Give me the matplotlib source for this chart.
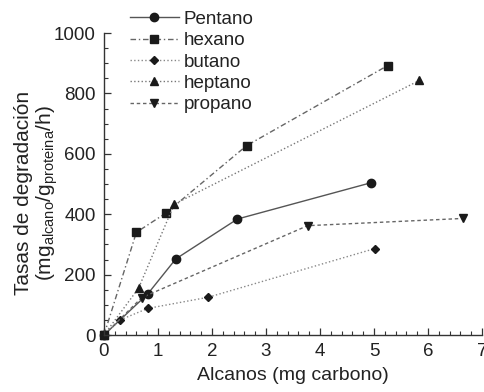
import matplotlib
matplotlib.use("Agg")
import matplotlib.pyplot as plt
from matplotlib.ticker import MultipleLocator

plt.rcParams['font.family'] = ['Liberation Sans', 'DejaVu Sans']
plt.rcParams['mathtext.default'] = 'regular'

# degradation rate vs. alkane carbon, one series per alkane
pentano_x = [0, 0.81, 1.33, 2.47, 4.94]
pentano_y = [0, 136, 252, 384, 504]

hexano_x = [0, 0.6, 1.14, 2.64, 5.25]
hexano_y = [0, 340, 403, 627, 892]

butano_x = [0, 0.3, 0.81, 1.93, 5.01]
butano_y = [0, 50, 88, 125, 286]

heptano_x = [0, 0.64, 1.3, 5.84]
heptano_y = [0, 155, 433, 843]

propano_x = [0, 0.7, 3.77, 6.65]
propano_y = [0, 124, 362, 386]

line_col = '#555555'
mark_col = '#1a1a1a'

fig = plt.figure(figsize=(4.85, 3.92), dpi=100)
ax = fig.add_axes([0.2144, 0.1454, 0.7796, 0.7704])

ax.plot(pentano_x, pentano_y, '-', color=line_col, lw=1.0, marker='o', ms=6,
        mfc=mark_col, mec=mark_col, label='Pentano', clip_on=False)
ax.plot(hexano_x, hexano_y, '-.', color='#666666', lw=1.0, marker='s', ms=6,
        mfc=mark_col, mec=mark_col, label='hexano', clip_on=False, dashes=(4, 2, 1, 2))
ax.plot(butano_x, butano_y, ':', color='#888888', lw=1.0, marker='D', ms=4,
        mfc=mark_col, mec=mark_col, label='butano', clip_on=False)
ax.plot(heptano_x, heptano_y, ':', color='#777777', lw=1.0, marker='^', ms=5.5,
        mfc=mark_col, mec=mark_col, label='heptano', clip_on=False)
ax.plot(propano_x, propano_y, '--', color='#666666', lw=1.0, marker='v', ms=5.5,
        mfc=mark_col, mec=mark_col, label='propano', clip_on=False, dashes=(2.5, 2))

ax.set_xlim(0, 7)
ax.set_ylim(0, 1000)
ax.xaxis.set_major_locator(MultipleLocator(1))
ax.xaxis.set_minor_locator(MultipleLocator(0.2))
ax.yaxis.set_major_locator(MultipleLocator(200))
ax.yaxis.set_minor_locator(MultipleLocator(50))

for side in ('top', 'right'):
    ax.spines[side].set_visible(False)
for side in ('left', 'bottom'):
    ax.spines[side].set_color('#333333')
    ax.spines[side].set_linewidth(1.0)

ax.tick_params(which='major', direction='in', length=5, width=0.9,
               labelsize=13.5, colors='#333333', labelcolor='#222222', pad=6)
ax.tick_params(which='minor', direction='in', length=3, width=0.8, colors='#333333')

ax.set_xlabel('Alcanos (mg carbono)', fontsize=14, color='#222222', labelpad=5)
ax.set_ylabel('Tasas de degradación\n(mg$_{alcano}$/g$_{proteina}$/h)',
              fontsize=15, color='#222222', linespacing=1.05)
ax.yaxis.set_label_coords(-0.117, 0.47)

leg = ax.legend(loc='upper left', bbox_to_anchor=(0.049, 1.099), frameon=False,
                fontsize=13.5, handlelength=2.6, handletextpad=0.25,
                labelspacing=0.23, borderaxespad=0)
for t in leg.get_texts():
    t.set_color('#222222')

fig.savefig('out.png', dpi=100)
